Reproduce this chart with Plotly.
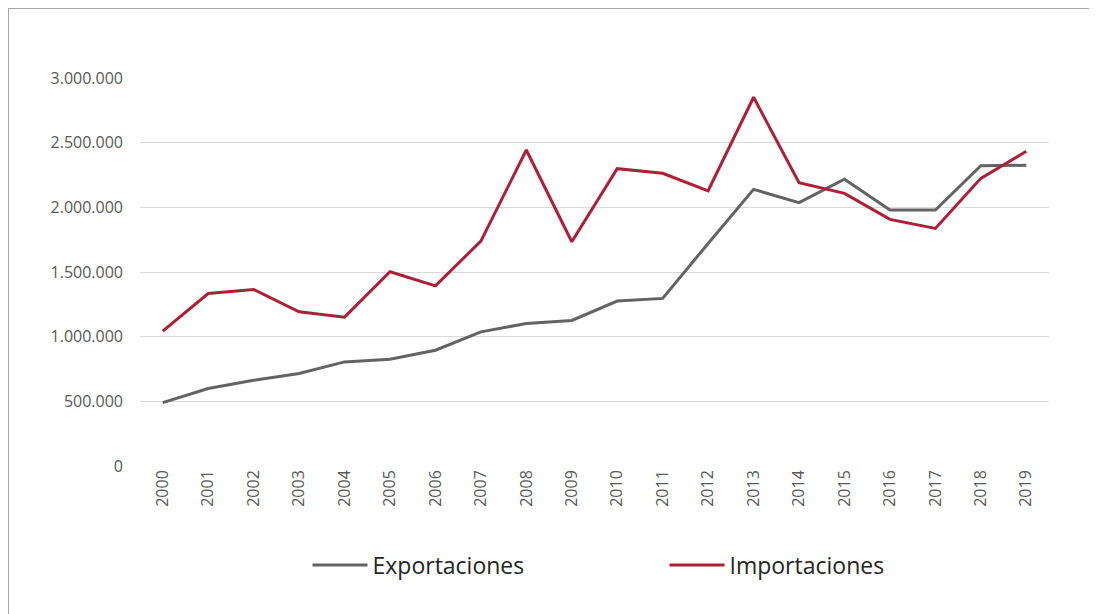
import plotly.graph_objects as go

years = [str(y) for y in range(2000, 2020)]
exportaciones = [490000, 599000, 663000, 715000, 805000, 826000, 895000, 1037000, 1102000, 1125000,
                 1275000, 1296000, 1721000, 2139000, 2036000, 2217000, 1979000, 1979000, 2322000, 2325000]
importaciones = [1043000, 1334000, 1365000, 1192000, 1151000, 1502000, 1393000, 1739000, 2443000, 1734000,
                 2299000, 2263000, 2128000, 2851000, 2190000, 2108000, 1907000, 1837000, 2224000, 2433000]
y_ticks = [0, 500000, 1000000, 1500000, 2000000, 2500000, 3000000]

GRAY = "#636363"
RED = "#AD1F37"
FONT = "Open Sans"

fig = go.Figure()
fig.add_trace(go.Scatter(x=years, y=exportaciones, mode="lines", name="Exportaciones",
                         line=dict(color=GRAY, width=3)))
fig.add_trace(go.Scatter(x=years, y=importaciones, mode="lines", name="Importaciones",
                         line=dict(color=RED, width=3)))

# page has an 8px body margin, so the figure itself starts at (8, 8)
W, H = 1089, 606
L, R, T, B = 132, 48, 70, 148
pw, ph = W - L - R, H - T - B

fig.update_layout(
    width=W, height=H,
    margin=dict(l=L, r=R, t=T, b=B),
    paper_bgcolor="white", plot_bgcolor="white",
    separators=",.",
    font=dict(family=FONT, color="#595959", size=16),
    showlegend=True,
    legend=dict(orientation="h", x=0.5 + 70 / pw, xanchor="center", y=-(557 - (T + ph)) / ph, yanchor="middle",
                font=dict(family=FONT, size=23, color="#262626"),
                itemwidth=55, entrywidth=287, traceorder="normal"),
    xaxis=dict(type="category", tickangle=-90, showgrid=False, showline=False, zeroline=False,
               ticks="", tickfont=dict(family=FONT, size=16, color="#595959"),
               range=[-0.5, len(years) - 0.5], fixedrange=True),
    yaxis=dict(range=[0, 3000000], tickvals=y_ticks, tickformat=",d", showgrid=True,
               gridcolor="#D9D9D9", gridwidth=1, zeroline=False, showline=False,
               ticks="", ticklabelstandoff=16,
               tickfont=dict(family=FONT, size=16, color="#595959"), fixedrange=True),
    shapes=[
        dict(type="line", xref="paper", yref="paper",
             x0=(0 - L) / pw, x1=(W + 5 - L) / pw, y0=(T + ph - 0.5) / ph, y1=(T + ph - 0.5) / ph,
             line=dict(color="#A6A6A6", width=1)),
        dict(type="line", xref="paper", yref="paper",
             x0=(0.5 - L) / pw, x1=(0.5 - L) / pw, y0=(T + ph) / ph, y1=(T + ph - H - 5) / ph,
             line=dict(color="#A6A6A6", width=1)),
    ],
)

fig.write_html("out.html")
